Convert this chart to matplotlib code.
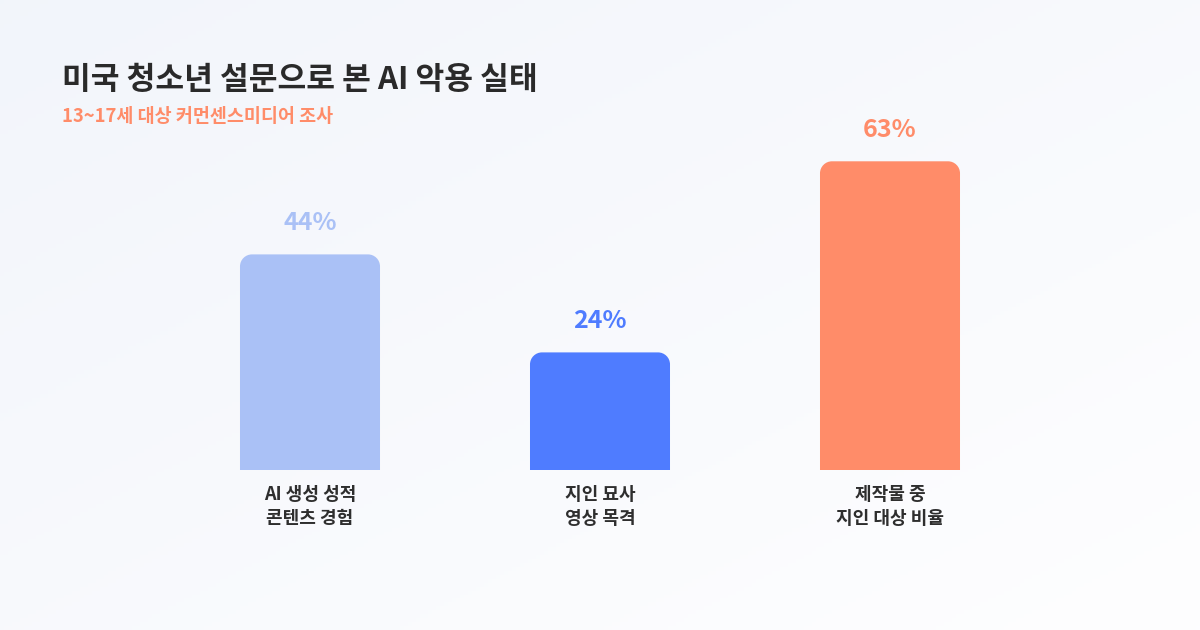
"""Bar chart: US teen survey on AI misuse."""

import numpy as np
import matplotlib.pyplot as plt
from matplotlib.path import Path
from matplotlib.patches import PathPatch

plt.rcParams["font.family"] = ["Noto Sans CJK KR", "DejaVu Sans"]

title = "미국 청소년 설문으로 본 AI 악용 실태"
subtitle = "13~17세 대상 커먼센스미디어 조사"
categories = ["AI 생성 성적\n콘텐츠 경험", "지인 묘사\n영상 목격", "제작물 중\n지인 대상 비율"]
values = [44, 24, 63]
colors = ["#aac1f6", "#4f7cff", "#ff8c69"]

W, H = 1200, 630
fig = plt.figure(figsize=(W / 100, H / 100), dpi=100)

# soft diagonal background
bg = fig.add_axes([0, 0, 1, 1], zorder=-1)
gx, gy = np.meshgrid(np.linspace(0, 1, 300), np.linspace(0, 1, 160))
t = np.clip((gx + (1 - gy)) / 2, 0, 1)[::-1]
c0 = np.array([0.949, 0.961, 0.984])
c1 = np.array([0.996, 0.996, 1.0])
img = c0[None, None, :] * (1 - t[..., None]) + c1[None, None, :] * t[..., None]
bg.imshow(img, aspect="auto", extent=[0, 1, 0, 1], origin="upper")
bg.axis("off")

ax = fig.add_axes([107 / W, 160 / H, 986 / W, 343 / H])
ax.set_xlim(-0.7, 2.7)
ax.set_ylim(0, 70)
ax.patch.set_alpha(0)

x = np.arange(len(values))
bars = ax.bar(x, values, width=0.4828, color=colors)

# swap plain rectangles for ones with rounded top corners
px_x = 986 / 3.4  # pixels per x unit
px_y = 343 / 70   # pixels per y unit
r = 12
for rect, col in zip(bars, colors):
    x0, w, h = rect.get_x(), rect.get_width(), rect.get_height()
    rx, ry = r / px_x, r / px_y
    k = 0.5523
    verts = [
        (x0, 0), (x0, h - ry),
        (x0, h - ry + k * ry), (x0 + rx - k * rx, h), (x0 + rx, h),
        (x0 + w - rx, h),
        (x0 + w - rx + k * rx, h), (x0 + w, h - ry + k * ry), (x0 + w, h - ry),
        (x0 + w, 0), (x0, 0),
    ]
    codes = [Path.MOVETO, Path.LINETO,
             Path.CURVE4, Path.CURVE4, Path.CURVE4,
             Path.LINETO,
             Path.CURVE4, Path.CURVE4, Path.CURVE4,
             Path.LINETO, Path.CLOSEPOLY]
    ax.add_patch(PathPatch(Path(verts, codes), facecolor=col, edgecolor="none"))
    rect.set_visible(False)

for xi, v, col in zip(x, values, colors):
    ax.annotate(f"{v}%", (xi, v), xytext=(0, 14), textcoords="offset points",
                ha="center", va="bottom", fontsize=18, fontweight="bold", color=col)

ax.set_xticks(x)
ax.set_xticklabels(categories, fontsize=13, fontweight="bold", color="#2e2e2e",
                   linespacing=1.3)
ax.tick_params(axis="x", length=0, pad=11)
ax.set_yticks([])
for s in ax.spines.values():
    s.set_visible(False)

fig.text(62 / W, 1 - 80 / H, title, fontsize=22.5, fontweight="bold",
         color="#2a2a2a", va="center", ha="left")
fig.text(62 / W, 1 - 117 / H, subtitle, fontsize=13.3, fontweight="bold",
         color="#ff8c69", va="center", ha="left")

fig.savefig("out.png", dpi=100)
